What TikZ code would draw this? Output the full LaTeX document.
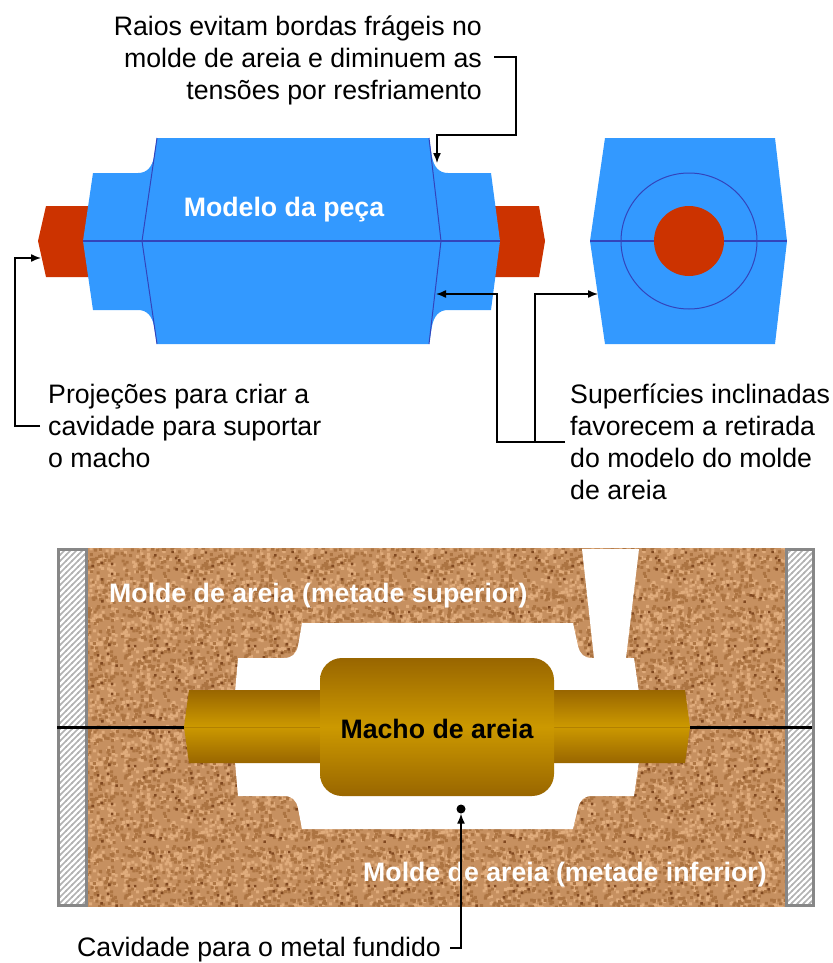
\documentclass[tikz,border=0pt]{standalone}
\usepackage{fontspec}
\setmainfont{Liberation Sans}
\usetikzlibrary{patterns,arrows.meta}
\definecolor{partblue}{HTML}{3399FF}
\definecolor{seamblue}{HTML}{3344BB}
\definecolor{printred}{HTML}{CC3300}
\definecolor{sandbase}{HTML}{C69060}
\definecolor{sandlight}{HTML}{E0AC7C}
\definecolor{sanddark}{HTML}{AC7442}
\definecolor{sanddeep}{HTML}{804820}
\definecolor{coredark}{HTML}{996600}
\definecolor{corelight}{HTML}{CC9900}
\newcommand{\grainspecks}[3]{%
  \pgfsetfillcolor{#1}%
  \foreach \i in {1,...,#2}{%
    \pgfmathsetmacro{\sx}{117*rnd}%
    \pgfmathsetmacro{\sy}{117*rnd}%
    \pgfpathrectangle{\pgfpoint{\sx pt}{\sy pt}}{\pgfqpoint{#3pt}{#3pt}}%
    \pgfusepath{fill}%
  }%
}
\pgfdeclarepatterninherentlycolored{sandgrain}{\pgfpointorigin}{\pgfqpoint{120pt}{120pt}}{\pgfqpoint{120pt}{120pt}}{%
  \pgfmathsetseed{17}%
  \pgfsetfillcolor{sandbase}%
  \pgfpathrectangle{\pgfpointorigin}{\pgfqpoint{120pt}{120pt}}%
  \pgfusepath{fill}%
  \grainspecks{sandlight}{450}{3}%
  \grainspecks{sanddark}{450}{3}%
  \grainspecks{sanddeep}{45}{2.5}%
}
\pgfdeclarepatternformonly{flaskhatch}{\pgfqpoint{-1pt}{-1pt}}{\pgfqpoint{7pt}{7pt}}{\pgfqpoint{6pt}{6pt}}{%
  \pgfsetlinewidth{1.7pt}%
  \pgfpathmoveto{\pgfqpoint{-1pt}{-1pt}}%
  \pgfpathlineto{\pgfqpoint{7pt}{7pt}}%
  \pgfusepath{stroke}%
}
\tikzset{
  note/.style={font=\fontsize{26.7}{32}\selectfont,text=black,inner sep=0pt},
  boldnote/.style={font=\fontsize{26.7}{32}\selectfont\bfseries,inner sep=0pt},
  leader/.style={draw=black,line width=1.4pt},
  leaderarrow/.style={leader,-{Latex[length=10pt,width=8pt]}},
  seamline/.style={draw=seamblue,line width=1pt},
  flask/.style={draw=black!47,line width=3pt,pattern=flaskhatch,pattern color=black!30},
  coreshade/.style={top color=coredark,bottom color=coredark,middle color=corelight},
  partingline/.style={draw=black,line width=3pt},
}
\begin{document}
\begin{tikzpicture}[x=1pt,y=-1pt]
\useasboundingbox (0,0) rectangle (832,963);

\fill[sandbase] (87,548) rectangle (785,906);
\path[pattern=sandgrain] (87,548) rectangle (785,906);
\path[flask] (58,549) rectangle (86,905);
\path[flask] (786,549) rectangle (813,905);

\fill[white] (302,623) -- (573,623) -- (578,646) .. controls (580,654) and (584,658) .. (592,658)
  -- (594,658) -- (582,549) -- (639,549) -- (626,658) -- (634,658) -- (644,727) -- (634,796)
  -- (592,796) .. controls (584,796) and (580,800) .. (578,808) -- (573,829) -- (302,829)
  -- (298,808) .. controls (296,800) and (292,796) .. (284,796) -- (238,796) -- (232,727)
  -- (238,658) -- (284,658) .. controls (292,658) and (296,654) .. (298,646) -- cycle;

\coordinate (clampL) at (57,727);
\coordinate (clampR) at (812,727);
\coordinate (armL) at (322,727);
\coordinate (armR) at (552,727);
\node[inner sep=0pt,minimum size=0pt] (coreL) at (184,727) {};
\node[inner sep=0pt,minimum size=0pt] (coreR) at (690,727) {};
\draw[partingline] (clampL) -- (coreL);
\draw[partingline] (coreR) -- (clampR);

\shade[coreshade] (322,690) -- (189,690) -- (184,727) -- (189,763) -- (322,763) -- cycle;
\shade[coreshade] (552,690) -- (685,690) -- (690,727) -- (685,763) -- (552,763) -- cycle;
\draw[coredark!50!corelight,line width=0.6pt] (coreL) -- (armL);
\draw[coredark!50!corelight,line width=0.6pt] (armR) -- (coreR);
\shade[coreshade,rounded corners=22pt] (320,658) rectangle (554,796);

\fill[printred] (46,206) -- (100,206) -- (100,277) -- (46,277) -- (38,241) -- cycle;
\fill[printred] (480,206) -- (539,206) -- (545,241) -- (539,277) -- (480,277) -- cycle;
\fill[partblue] (157,138) -- (429,138) -- (432,157) .. controls (434,167) and (439,173) .. (448,173)
  -- (491,173) -- (500,241) -- (491,310) -- (448,310) .. controls (439,310) and (434,316) .. (432,326)
  -- (429,344) -- (157,344) -- (154,326) .. controls (152,316) and (147,310) .. (138,310)
  -- (93,310) -- (83,241) -- (93,173) -- (138,173) .. controls (147,173) and (152,167) .. (154,157) -- cycle;
\draw[seamline] (157,138) -- (142,241) -- (157,344);
\draw[seamline] (429,138) -- (441,241) -- (429,344);
\draw[seamblue,line width=1.5pt] (83,241) -- (500,241);

\fill[partblue] (605,138) -- (775,138) -- (787,241) -- (775,344) -- (605,344) -- (590,241) -- cycle;
\draw[seamblue,line width=1.5pt] (590,241) -- (787,241);
\node[circle,draw=seamblue,line width=1pt,minimum size=136pt,inner sep=0pt] (ringView) at (689,241) {};
\node[circle,fill=printred,minimum size=70pt,inner sep=0pt] (coreView) at (689,241) {};

\node[note,align=right,anchor=north east] (raiosText) at (482,16) {Raios evitam bordas frágeis no\\molde de areia e diminuem as\\tensões por resfriamento};
\node[note,align=left,anchor=north west] (projText) at (48,384) {Projeções para criar a\\cavidade para suportar\\o macho};
\node[note,align=left,anchor=north west] (superText) at (570,384) {Superfícies inclinadas\\favorecem a retirada\\do modelo do molde\\de areia};
\node[note,anchor=west] (cavText) at (77,950) {Cavidade para o metal fundido};
\node[boldnote,text=white] (modeloText) at (284,210) {Modelo da peça};
\node[boldnote,text=white,anchor=west] (topSand) at (109,596) {Molde de areia (metade superior)};
\node[boldnote,text=white,anchor=west] (lowSand) at (363,875) {Molde de areia (metade inferior)};
\node[boldnote,text=black] (coreText) at (437,729) {Macho de areia};

\coordinate (raiosEnd) at (494,57);
\coordinate (raiosTip) at (437,163);
\coordinate (projEnd) at (40,426);
\coordinate (projTip) at (41,258);
\coordinate (superEnd) at (565,442);
\coordinate (bodyTip) at (436,294);
\coordinate (viewTip) at (598,294);
\coordinate (cavEnd) at (450,948);
\node[circle,fill=black,minimum size=9pt,inner sep=0pt] (cavDot) at (461,809) {};

\draw[leaderarrow] (raiosEnd) -- (516,57) -- (516,135) -- (437,135) -- (raiosTip);
\draw[leaderarrow] (projEnd) -- (15,426) -- (15,258) -- (projTip);
\draw[leaderarrow] (superEnd) -- (497,442) -- (497,294) -- (bodyTip);
\draw[leaderarrow] (535,442) -- (535,294) -- (viewTip);
\draw[leaderarrow] (cavEnd) -- (461,948) -- (cavDot);
\end{tikzpicture}
\end{document}
